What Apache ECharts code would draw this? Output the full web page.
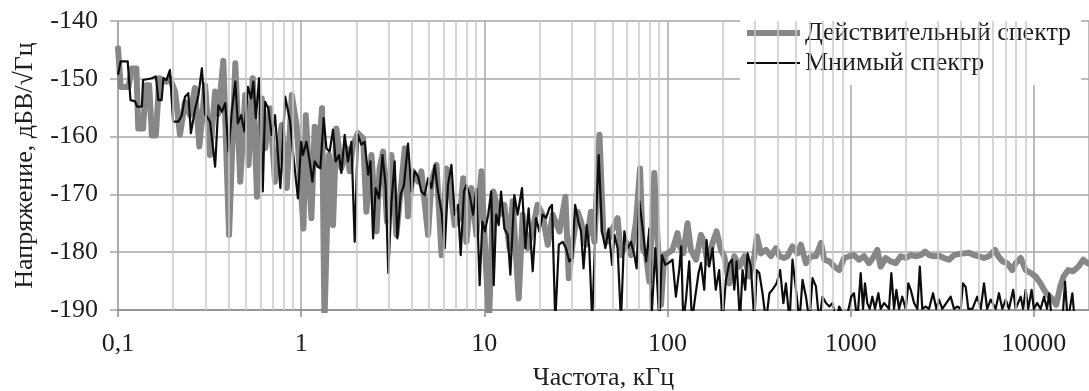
<!DOCTYPE html>
<html>
<head>
<meta charset="utf-8">
<style>
  html, body { margin: 0; padding: 0; background: #fff; }
  #chart { width: 1089px; height: 391px; }
</style>
<script src="https://cdn.jsdelivr.net/npm/echarts@6/dist/echarts.min.js"></script>
</head>
<body>
<div id="chart"></div>
<script>
// --- ДАННЫЕ ---
const seriesNames = ['Действительный спектр', 'Мнимый спектр'];

// частоты, кГц -- действительный спектр
const realFreq = [
  0.1, 0.1035, 0.114, 0.119, 0.126, 0.129, 0.137, 0.142, 0.148, 0.153, 0.161, 0.168, 0.184, 0.192,
  0.205, 0.218, 0.232, 0.247, 0.263, 0.278, 0.299, 0.318, 0.339, 0.353, 0.376, 0.404, 0.437, 0.465,
  0.495, 0.516, 0.544, 0.574, 0.61, 0.636, 0.676, 0.72, 0.783, 0.834, 0.889, 0.944,
  1.03, 1.06, 1.137, 1.185, 1.235, 1.30, 1.34, 1.37, 1.418, 1.492, 1.557, 1.658, 1.766, 1.84, 1.92,
  2.04, 2.18, 2.27, 2.42, 2.58, 2.68, 2.80, 2.94, 3.11, 3.31, 3.53, 3.68, 3.83, 4.08, 4.35, 4.53,
  4.93, 5.14, 5.48, 5.84, 6.21, 6.47, 6.89, 7.34, 7.67, 7.98, 8.50, 9.05, 9.64,
  10.2, 10.6, 11.2, 12.07, 12.86, 13.7, 14.27, 15.4, 16.2, 17.2, 18.4, 19.5, 20.8, 22.2, 23.6, 25.7,
  27.7, 28.9, 30.4, 32.3, 33.7, 35.9, 38.2, 39.9, 42.5, 44.6, 47.1, 50.2, 53.4, 55.7, 59.4, 63.2,
  67.3, 70.8, 73.2, 76.4, 79.6, 84.7, 88.4, 92.1, 96.1,
  102, 106.5, 113.4, 116.9, 121.9, 128.6, 134.3, 143, 152.3, 158.7, 165.4, 176.1, 185.2, 195.8,
  204, 217.4, 231.5, 246.6, 262.6, 279.7, 297.8, 307.7, 323.6, 344.7, 367, 391, 408, 434, 452,
  481, 513, 535, 570, 607, 646, 688, 718, 765, 815, 866, 922, 982,
  1042, 1110, 1182, 1259, 1341, 1398, 1458, 1553, 1654, 1761, 1875, 1997, 2127, 2265, 2412, 2546,
  2678, 2851, 3036, 3232, 3442, 3666, 3904, 4155, 4424, 4712, 5018, 5343, 5690, 6133, 6394, 6758,
  7159, 7626, 7957, 8473, 9022, 9607, 10230, 10890, 11360, 11870, 12550, 13240, 13940, 14540,
  15380, 16390, 17470, 18620, 19610, 20000
];
// дБВ/√Гц -- действительный спектр
const realVal = [
  -144.7, -151.4, -151.4, -148.2, -148.2, -158.6, -158.6, -151.1, -151.1, -159.8, -159.8, -149.9, -150.5, -149.9,
  -152.2, -159.7, -154.0, -156.3, -151.6, -161.7, -151.1, -163.2, -152.2, -156.1, -146.9, -177.0, -147.3, -167.8,
  -152.8, -164.9, -149.9, -170.4, -153.4, -162.0, -155.1, -167.8, -158.0, -168.9, -152.8, -158.0,
  -175.9, -156.3, -174.1, -158.3, -164.9, -155.1, -192, -192, -163.2, -175.3, -158.6, -165.5, -162.0, -166.0, -161.4,
  -159.4, -160.3, -173.0, -163.2, -176.4, -165.5, -162.6, -174.7, -163.2, -177.0, -167.8, -162.0, -173.8, -166.0, -167.8, -166.0,
  -177.0, -167.8, -164.9, -180.5, -165.5, -168.4, -175.3, -174.1, -167.2, -178.2, -168.9, -177.0, -166.0,
  -182.2, -192, -169.5, -173.5, -171.8, -179.3, -171.2, -188.0, -173.5, -179.3, -175.9, -171.8, -173.5, -178.7, -173.5, -176.4,
  -170.4, -184.5, -178.2, -173.0, -174.7, -178.7, -173.0, -178.2, -159.7, -176.4, -178.2, -175.9, -174.1, -180.5, -178.2, -180.5,
  -174.7, -165.5, -179.3, -180.5, -185.1, -166.3, -178.2, -189.1, -180.5,
  -180.0, -179.6, -176.7, -179.0, -180.2, -175.0, -179.6, -181.3, -177.0, -178.4, -181.9, -178.4, -176.4, -179.6,
  -180.7, -185.4, -180.7, -182.5, -180.7, -184.2, -180.7, -177.3, -180.2, -179.6, -180.7, -179.3, -180.7, -181.0, -180.7,
  -179.0, -180.2, -178.7, -181.9, -180.7, -180.7, -178.4, -181.3, -181.6, -182.5, -183.1, -181.0, -180.7,
  -180.5, -181.3, -180.7, -181.9, -180.7, -179.6, -182.5, -181.0, -181.6, -181.9, -180.7, -181.0, -180.5, -180.7, -180.5, -179.9,
  -180.5, -180.7, -180.6, -181.0, -181.3, -180.5, -180.3, -180.2, -180.1, -180.5, -180.7, -181.0, -180.7, -179.6, -180.7, -181.6,
  -181.9, -183.1, -181.9, -181.0, -183.1, -183.6, -184.2, -185.4, -186.5, -187.4, -188.0, -189.1, -185.9, -184.2,
  -183.1, -183.3, -182.5, -181.3, -181.9, -182.0
];

// частоты, кГц -- мнимый спектр
const imagFreq = [
  0.1, 0.1034, 0.113, 0.117, 0.124, 0.127, 0.135, 0.137, 0.153, 0.161, 0.166, 0.173, 0.177, 0.184, 0.192,
  0.2, 0.214, 0.223, 0.232, 0.242, 0.25, 0.263, 0.275, 0.287, 0.299, 0.318, 0.339, 0.353, 0.369, 0.385,
  0.401, 0.418, 0.437, 0.451, 0.47, 0.49, 0.512, 0.533, 0.548, 0.566, 0.589, 0.617, 0.636, 0.662, 0.69,
  0.72, 0.77, 0.818, 0.87, 0.906, 0.96,
  1.0, 1.023, 1.068, 1.113, 1.151, 1.185, 1.235, 1.273, 1.327, 1.373, 1.43, 1.492, 1.543, 1.61, 1.658,
  1.728, 1.80, 1.88, 1.96, 2.04, 2.13, 2.22, 2.32, 2.39, 2.47, 2.55, 2.66, 2.78, 2.89, 2.99, 3.11, 3.24,
  3.35, 3.49, 3.64, 3.83, 4.0, 4.17, 4.35, 4.53, 4.72, 4.93, 5.14, 5.36, 5.58, 5.84, 6.08, 6.33, 6.61,
  6.89, 7.17, 7.43, 7.74, 7.98, 8.32, 8.68, 9.05, 9.43, 9.75,
  10.08, 10.5, 10.9, 11.25, 11.6, 11.98, 12.34, 12.86, 13.4, 13.87, 14.58, 15.2, 16.06, 16.75, 17.45,
  18.36, 19.15, 19.97, 20.8, 21.7, 22.65, 23.4, 24.4, 25.5, 26.8, 27.9, 29.1, 30.2, 31.3, 32.6, 33.7,
  34.8, 36.2, 37.4, 38.8, 40.4, 42.1, 43.9, 45.8, 47.7, 49.8, 51.3, 53.4, 55.7, 58.1, 60.6, 63.2, 65.9,
  67.8, 70.2, 73.2, 76.4, 79.6, 81.6, 85.8, 90.2, 93.2, 97.3,
  102, 106.5, 111.1, 115.8, 118.8, 121.9, 126.1, 131.4, 136, 141.7, 147.7, 152.3, 158.7, 163.4, 168.9,
  176.1, 183.4, 191.5, 199.7, 208.4, 217.4, 224.8, 231.5, 238.3, 248.5, 256.8, 265.6, 273.5, 285.2,
  297.8, 307, 317, 330, 345, 360, 374, 394, 412, 429, 443, 464, 481, 503, 525, 546, 570, 595, 619, 646,
  673, 702, 733, 765, 796, 830, 866, 942,
  1006, 1042, 1087, 1134, 1168, 1197, 1232, 1270, 1313, 1358, 1416, 1458, 1521, 1619, 1667, 1724, 1775,
  1836, 1913, 1997, 2064, 2127, 2218, 2312, 2384, 2460, 2568, 2678, 2815, 2935, 3036, 3163, 3516, 3666,
  3820, 3987, 4100, 4245, 4385, 4620, 4907, 5126, 5343, 5558, 5812, 6189, 6450, 6726, 7018, 7316, 7708,
  7957, 8473, 8735, 9022, 9315, 9720, 10000, 10420, 10890, 11360, 11800, 12140, 12550, 14300, 14800,
  15300, 16230, 16720, 20000
];
// дБВ/√Гц -- мнимый спектр
const imagVal = [
  -149.3, -147.0, -147.0, -153.7, -153.9, -154.8, -154.8, -150.2, -149.9, -149.6, -153.7, -153.7, -149.9, -150.2, -148.5,
  -157.4, -157.4, -156.3, -153.1, -152.5, -159.4, -155.4, -152.8, -148.2, -156.1, -157.4, -165.2, -154.6, -155.7, -154.2,
  -162.6, -155.7, -150.5, -157.7, -156.3, -159.1, -151.4, -153.4, -150.5, -156.8, -149.9, -169.5, -154.0, -155.1, -159.7,
  -156.3, -168.9, -153.1, -157.4, -163.2, -170.7,
  -160.9, -163.2, -160.9, -164.3, -167.8, -164.3, -165.2, -165.5, -156.8, -162.0, -162.6, -158.8, -164.3, -163.2, -166.3,
  -159.7, -164.3, -160.9, -178.2, -159.7, -161.4, -160.9, -166.6, -164.3, -177.6, -168.9, -170.7, -163.2, -168.4, -183.6, -171.3, -164.3,
  -177.6, -170.1, -168.4, -161.2, -169.5, -166.0, -166.9, -169.5, -170.1, -167.2, -168.9, -164.9, -169.5, -173.0, -179.3, -168.4, -164.9,
  -173.5, -171.8, -180.5, -169.5, -168.4, -170.1, -173.5, -169.0, -185.7, -174.7,
  -176.4, -173.5, -169.5, -185.7, -173.5, -175.3, -169.5, -175.9, -177.0, -183.9, -170.1, -173.5, -168.9, -179.3, -172.4,
  -183.3, -174.1, -176.4, -173.5, -174.1, -172.4, -171.8, -192, -178.7, -178.2, -179.3, -181.6, -181.0, -171.8, -174.7, -176.4,
  -182.8, -175.3, -179.3, -192, -176.4, -163.2, -176.4, -179.3, -175.9, -182.2, -177.0, -179.3, -192, -176.4, -179.3, -178.2, -180.5,
  -182.8, -171.2, -175.9, -181.6, -175.9, -192, -179.3, -192, -180.5, -182.2,
  -181.8, -181.3, -187.7, -183.1, -179.0, -192, -188.2, -181.6, -192, -187.7, -183.6, -181.9, -186.5, -177.9, -182.5,
  -179.3, -186.5, -183.1, -192, -184.8, -181.9, -181.3, -186.5, -181.6, -192, -183.1, -186.5, -180.2, -182.5,
  -192, -183.1, -183.6, -187.1, -192, -187.1, -186.5, -185.4, -183.1, -188.8, -185.4, -192, -181.3, -186.5, -192, -184.8, -187.7, -192, -184.5, -185.9,
  -192, -187.7, -188.8, -189.4, -188.8, -192, -189.4, -192,
  -187.7, -187.1, -192, -183.6, -189.8, -185.4, -188.8, -189.8, -187.7, -189.8, -187.1, -189.8, -188.8, -189.8, -183.6, -189.8, -186.5,
  -189.8, -187.7, -189.8, -185.4, -186.5, -188.8, -189.8, -182.5, -189.8, -189.4, -189.8, -187.1, -189.8, -188.2, -189.8, -187.7, -189.8,
  -189.4, -189.8, -185.4, -186.0, -189.8, -189.8, -187.7, -189.8, -185.4, -189.8, -188.2, -189.8, -187.1, -189.8, -188.2, -189.8, -186.5,
  -189.8, -187.7, -189.8, -186.5, -189.8, -186.5, -189.8, -188.8, -189.8, -187.7, -189.8, -187.1, -192, -192, -185.1,
  -192, -187.1, -192, -192
];

// вспомогательная сетка (2..9 в каждой декаде)
const minorGrid = [
  0.2, 0.3, 0.4, 0.5, 0.6, 0.7, 0.8, 0.9,
  2, 3, 4, 5, 6, 7, 8, 9,
  20, 30, 40, 50, 60, 70, 80, 90,
  200, 300, 400, 500, 600, 700, 800, 900,
  2000, 3000, 4000, 5000, 6000, 7000, 8000, 9000
];

// --- РИСОВАНИЕ ---
const FONT = 'Liberation Serif';
const TXT = '#1e1e1e';
const GRAY = '#878787';
const BLACK = '#0d0d0d';
const pairs = (f, v) => f.map((x, i) => [x, v[i]]);

const chart = echarts.init(document.getElementById('chart'));
chart.setOption({
  animation: false,
  grid: { left: 118, right: 0, top: 21, bottom: 81, containLabel: false, outerBoundsMode: 'none' },
  legend: {
    // иконки-полоски вместо линии с маркером
    data: [
      { name: seriesNames[0], icon: 'path://M0,0H530V60H0Z', itemStyle: { color: GRAY } },
      { name: seriesNames[1], icon: 'path://M0,0H530V22H0Z', itemStyle: { color: BLACK } }
    ],
    orient: 'vertical',
    left: 740, top: 20,
    padding: [0, 10, 9, 7],
    itemWidth: 53, itemHeight: 14, itemGap: 4,
    backgroundColor: '#fff',
    textStyle: { fontFamily: FONT, fontSize: 26, color: TXT }
  },
  xAxis: {
    type: 'log', logBase: 10, min: 0.1, max: 20000,
    name: 'Частота, кГц', nameLocation: 'middle', nameGap: 55,
    nameTextStyle: { fontFamily: FONT, fontSize: 26, color: TXT },
    axisLine: { lineStyle: { color: '#8c8c8c', width: 1.5 } },
    axisTick: { show: true, length: 7, lineStyle: { color: '#8c8c8c', width: 1.5 } },
    axisLabel: {
      fontFamily: FONT, fontSize: 26, color: TXT, margin: 21, showMaxLabel: false,
      formatter: v => v < 1 ? String(+v.toFixed(1)).replace('.', ',') : String(Math.round(v))
    },
    splitLine: { show: true, lineStyle: { color: '#a6a6a6', width: 1.5 } }
  },
  yAxis: {
    type: 'value', min: -190, max: -140, interval: 10,
    name: 'Напряжение, дБВ/√Гц', nameLocation: 'middle', nameGap: 80,
    nameTextStyle: { fontFamily: FONT, fontSize: 26, color: TXT },
    axisLine: { show: true, lineStyle: { color: '#a6a6a6', width: 1.5 } },
    axisTick: { show: true, length: 8, lineStyle: { color: '#a6a6a6', width: 1.5 } },
    axisLabel: { fontFamily: FONT, fontSize: 26, color: TXT, margin: 20 },
    splitLine: { show: true, lineStyle: { color: '#a6a6a6', width: 1.5 } }
  },
  series: [
    {
      name: 'grid', type: 'line', data: [], z: 1, silent: true,
      markLine: {
        silent: true, symbol: ['none', 'none'], label: { show: false },
        lineStyle: { color: '#c8c8c8', width: 1.5, type: 'solid' },
        data: minorGrid.map(v => ({ xAxis: v }))
      }
    },
    {
      name: seriesNames[0], type: 'line', data: pairs(realFreq, realVal),
      showSymbol: false, symbol: 'none', z: 3,
      lineStyle: { color: GRAY, width: 6, join: 'round', cap: 'round' },
      itemStyle: { color: GRAY }
    },
    {
      name: seriesNames[1], type: 'line', data: pairs(imagFreq, imagVal),
      showSymbol: false, symbol: 'none', z: 4,
      lineStyle: { color: BLACK, width: 2.2, join: 'round' },
      itemStyle: { color: BLACK }
    }
  ]
});
</script>
</body>
</html>
